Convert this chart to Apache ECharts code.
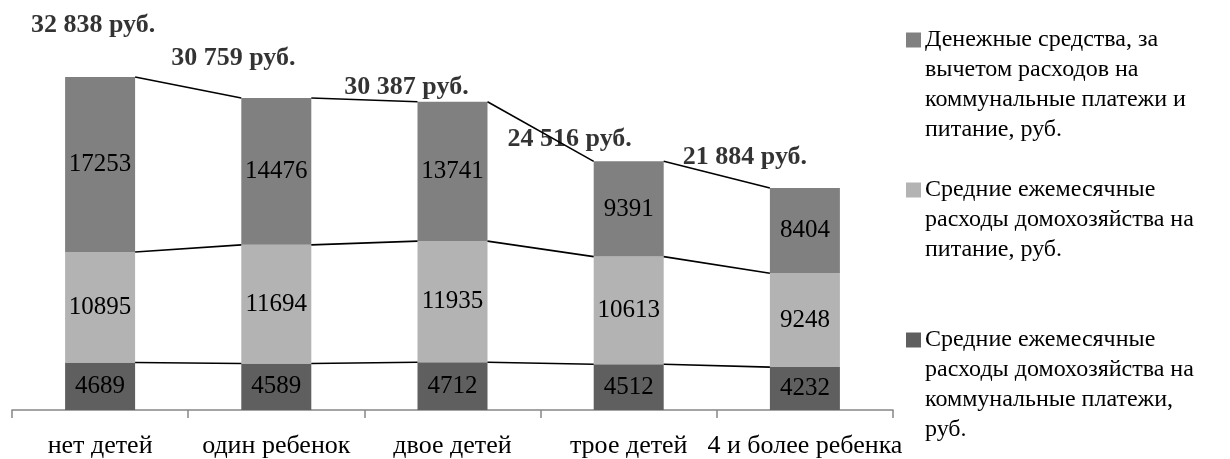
<!DOCTYPE html>
<html>
<head>
<meta charset="utf-8">
<script src="https://cdn.jsdelivr.net/npm/echarts@6/dist/echarts.min.js"></script>
<style>
html,body{margin:0;padding:0;background:#fff;}
#chart{width:1230px;height:459px;}
</style>
</head>
<body>
<div id="chart"></div>
<script>
// ---- data ----
const categories = ['нет детей', 'один ребенок', 'двое детей', 'трое детей', '4 и более ребенка'];
const utilities = [4689, 4589, 4712, 4512, 4232];
const food = [10895, 11694, 11935, 10613, 9248];
const remaining = [17253, 14476, 13741, 9391, 8404];
const totals = [32838, 30759, 30387, 24516, 21884];
const seriesNames = [
  'Денежные средства, за вычетом расходов на коммунальные платежи и питание, руб.',
  'Средние ежемесячные расходы домохозяйства на питание, руб.',
  'Средние ежемесячные расходы домохозяйства на коммунальные платежи, руб.'
];
const legendLines = [
  ['Денежные средства, за', 'вычетом расходов на', 'коммунальные платежи и', 'питание, руб.'],
  ['Средние ежемесячные', 'расходы домохозяйства на', 'питание, руб.'],
  ['Средние ежемесячные', 'расходы домохозяйства на', 'коммунальные платежи,', 'руб.']
];

// ---- styles ----
const FONT = '"Liberation Serif", "Times New Roman", serif';
const colors = ['#808080', '#b3b3b3', '#5f5f5f'];
const BAR_W = 70;
const totalLabelOffsets = [[-7, -52], [-43, -40], [-46, -15], [-59, -22], [-60, -31]];
const legendTops = [28, 178, 328];

const cum1 = utilities.slice();
const cum2 = utilities.map((v, i) => v + food[i]);
const cum3 = cum2.map((v, i) => v + remaining[i]);

const chart = echarts.init(document.getElementById('chart'));

function fmtTotal(v) {
  return String(v).replace(/\B(?=(\d{3})+(?!\d))/g, ' ') + ' руб.';
}

const legends = seriesNames.map((name, k) => ({
  data: [name],
  orient: 'vertical',
  left: 901,
  top: legendTops[k],
  padding: 0,
  icon: 'none',
  itemWidth: 0,
  selectedMode: false,
  formatter: () => legendLines[k].map((l, j) => (j === 0 ? '{box|}{gap|}' : '{ind|}') + '{t|' + l + '}').join('\n'),
  textStyle: {
    rich: {
      box: { width: 15, height: 15, backgroundColor: colors[k] },
      gap: { width: 4 },
      ind: { width: 19 },
      t: { fontFamily: FONT, fontSize: 24, lineHeight: 30, color: '#000' }
    }
  }
}));

const barLabel = {
  show: true,
  position: 'inside',
  color: '#000',
  fontFamily: FONT,
  fontSize: 25
};

chart.setOption({
  animation: false,
  backgroundColor: '#fff',
  legend: legends,
  grid: { left: 12, right: 337, top: 55, bottom: 47, containLabel: false },
  xAxis: {
    type: 'category',
    data: categories,
    boundaryGap: true,
    axisLine: { lineStyle: { color: '#868686', width: 1.5 } },
    axisTick: { show: true, length: 8, interval: 0, lineStyle: { color: '#868686', width: 1.5 } },
    axisLabel: { interval: 0, margin: 23, color: '#000', fontFamily: FONT, fontSize: 26 }
  },
  yAxis: {
    type: 'value',
    min: 0,
    max: 35000,
    show: false,
    splitLine: { show: false }
  },
  series: [
    {
      name: seriesNames[2], type: 'bar', stack: 'a', data: utilities, barWidth: BAR_W,
      itemStyle: { color: colors[2] }, label: barLabel
    },
    {
      name: seriesNames[1], type: 'bar', stack: 'a', data: food, barWidth: BAR_W,
      itemStyle: { color: colors[1] }, label: barLabel
    },
    {
      name: seriesNames[0], type: 'bar', stack: 'a', data: remaining, barWidth: BAR_W,
      itemStyle: { color: colors[0] }, label: barLabel
    },
    {
      type: 'custom',
      z: 5,
      data: categories.map((c, i) => [i, cum1[i], cum2[i], cum3[i]]),
      encode: { x: 0, y: [1, 2, 3] },
      renderItem: function (params, api) {
        const i = params.dataIndex;
        if (i >= categories.length - 1) return;
        const levels = [cum1, cum2, cum3];
        const children = levels.map(arr => {
          const p0 = api.coord([i, arr[i]]);
          const p1 = api.coord([i + 1, arr[i + 1]]);
          return {
            type: 'line',
            shape: { x1: p0[0] + BAR_W / 2, y1: p0[1], x2: p1[0] - BAR_W / 2, y2: p1[1] },
            style: { stroke: '#000', lineWidth: 1.6 }
          };
        });
        return { type: 'group', children: children };
      },
      silent: true
    },
    {
      type: 'scatter',
      symbolSize: 0,
      data: totals.map((v, i) => ({ value: v, label: { offset: totalLabelOffsets[i] } })),
      label: {
        show: true,
        position: 'inside',
        formatter: p => fmtTotal(p.value),
        color: '#000',
        fontFamily: FONT,
        fontSize: 26,
        fontWeight: 'bold'
      },
      silent: true
    }
  ]
});
</script>
</body>
</html>
